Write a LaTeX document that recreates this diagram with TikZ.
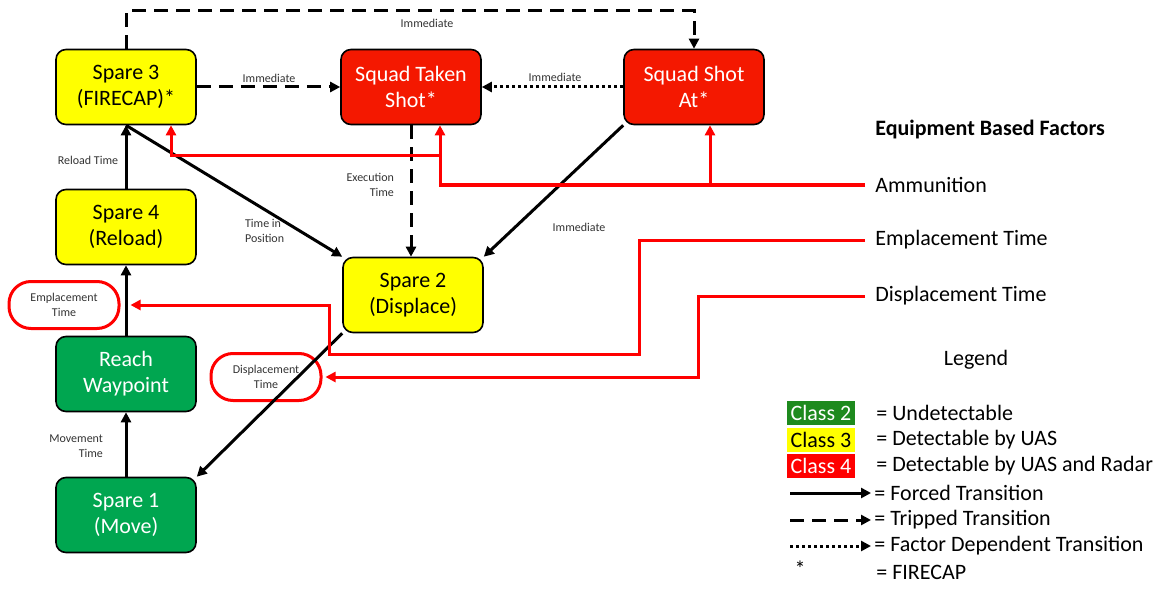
\documentclass[tikz,border=0pt]{standalone}
\usepackage{fontspec}
\setmainfont{Carlito}
\usepackage{tikz}
\usetikzlibrary{arrows.meta}

\definecolor{boxgreen}{RGB}{0,166,80}
\definecolor{boxyellow}{RGB}{255,255,0}
\definecolor{boxred}{RGB}{244,24,0}
\definecolor{legendgreen}{RGB}{30,138,30}
\definecolor{linered}{RGB}{255,0,0}

\tikzset{
  state/.style={draw=black, line width=0.8pt, rounded corners=5pt, minimum width=70pt, minimum height=37.5pt, align=center, font=\fontsize{11}{13}\selectfont},
  class2/.style={state, fill=boxgreen, text=white},
  class3/.style={state, fill=boxyellow, text=black},
  class4/.style={state, fill=boxred, text=white},
  forced/.style={line width=1.5pt, -{Triangle[length=5pt,width=5pt]}},
  tripped/.style={forced, dash pattern=on 7pt off 4pt},
  factordep/.style={forced, dash pattern=on 1.5pt off 1.5pt},
  factorline/.style={draw=linered, line width=1.5pt, -{Triangle[length=5pt,width=5pt]}},
  timelabel/.style={font=\fontsize{6}{7.5}\selectfont, text=black!80},
  oval/.style={draw=linered, line width=1.5pt, rounded corners=11pt, minimum width=55pt, minimum height=23.5pt, align=center, font=\fontsize{6}{7.5}\selectfont, text=black!80, inner sep=1pt},
  sidetext/.style={font=\fontsize{11}{13}\selectfont, anchor=west, inner sep=0pt},
  classbox/.style={minimum width=34pt, minimum height=12pt, inner sep=0pt, font=\fontsize{11}{13}\selectfont},
}

\begin{document}
\begin{tikzpicture}[x=0.5pt, y=-0.5pt]
\useasboundingbox (0,0) rectangle (1159,588);

% states
\node[class3] (spare3) at (126,87) {Spare 3\\(FIRECAP)*};
\node[class4] (takenshot) at (411,87) {Squad Taken\\Shot*};
\node[class4] (shotat) at (694,87) {Squad Shot\\At*};
\node[class3] (spare4) at (126,227) {Spare 4\\(Reload)};
\node[class3] (spare2) at (413,295) {Spare 2\\(Displace)};
\node[class2] (reach) at (126,374) {Reach\\Waypoint};
\node[class2] (spare1) at (126,515) {Spare 1\\(Move)};

% factor ovals
\node[oval] (emplacelbl) at (64,305) {Emplacement\\Time};
\node[oval] (displacelbl) at (266,377) {Displacement\\Time};

% transitions
\coordinate (topline) at (400,11);
\draw[forced] (spare1) -- (reach);
\draw[forced] (reach) -- (spare4);
\draw[forced] (spare4) -- (spare3);
\draw[forced] (spare3.south) -- (spare2.north west);
\draw[forced] (shotat.south west) -- (spare2.north east);
\draw[forced] (spare2.south west) -- (spare1.north east);
\draw[tripped] (spare3) -- (takenshot);
\draw[tripped] (takenshot.south) -- (takenshot.south |- spare2.north);
\draw[tripped] (spare3.north) -- (spare3.north |- topline) -| (shotat.north);
\draw[factordep] (shotat) -- (takenshot);

\node[timelabel] (l1) at (427,23) {Immediate};
\node[timelabel] (l2) at (269,78) {Immediate};
\node[timelabel] (l3) at (555,77) {Immediate};
\node[timelabel] (l4) at (88,160) {Reload Time};
\node[timelabel, align=left, anchor=west] (l5) at (238,231) {Time in\\Position};
\node[timelabel, align=right, anchor=east] (l6) at (401,185) {Execution\\Time};
\node[timelabel] (l7) at (579,227) {Immediate};
\node[timelabel, align=right, anchor=east] (l8) at (110,446) {Movement\\Time};

% equipment based factors
\node[sidetext, font=\fontsize{11}{13}\selectfont\bfseries] (factors) at (875,130) {Equipment Based Factors};
\node[sidetext] (ammo) at (875,185) {Ammunition};
\node[sidetext] (emplace) at (875,240) {Emplacement Time};
\node[sidetext] (displace) at (875,296) {Displacement Time};

\draw[factorline] ([xshift=-5pt]ammo.west) -| ([xshift=14.5pt]takenshot.south);
\draw[factorline] ([xshift=14.5pt]takenshot.south |- 0,156) -| ([xshift=22.5pt]spare3.south);
\draw[factorline] ([xshift=8pt]shotat.south |- ammo.west) -- ([xshift=8pt]shotat.south);
\draw[factorline] ([xshift=-5pt]emplace.west) -| (639,354) -| (329,305) -- ([xshift=5pt]emplacelbl.east);
\draw[factorline] ([xshift=-5pt]displace.west) -| (698,377) -- ([xshift=1.5pt]displacelbl.east);

% legend
\node[font=\fontsize{11}{13}\selectfont] (legend) at (976,360) {Legend};
\node[classbox, fill=legendgreen, text=white] (cls2) at (821,413) {Class 2};
\node[classbox, fill=boxyellow] (cls3) at (821,440) {Class 3};
\node[classbox, fill=linered, text=white] (cls4) at (821,466) {Class 4};
\node[sidetext] (t2) at (876,413) {= Undetectable};
\node[sidetext] (t3) at (876,440) {= Detectable by UAS};
\node[sidetext] (t4) at (876,466) {= Detectable by UAS and Radar};
\node[sidetext] (tforced) at (874,493) {= Forced Transition};
\node[sidetext] (ttripped) at (874,520) {= Tripped Transition};
\node[sidetext] (tdep) at (874,546) {= Factor Dependent Transition};
\node[font=\fontsize{11}{13}\selectfont] (star) at (800,569) {*};
\node[sidetext] (tstar) at (876,572) {= FIRECAP};
\coordinate (lforced) at (790,493);
\coordinate (ltripped) at (790,520);
\coordinate (ldep) at (790,546);
\draw[forced] (lforced) -- ([xshift=-1.5pt]tforced.west);
\draw[tripped] (ltripped) -- ([xshift=-1.5pt]ttripped.west);
\draw[factordep] (ldep) -- ([xshift=-1.5pt]tdep.west);
\end{tikzpicture}
\end{document}
